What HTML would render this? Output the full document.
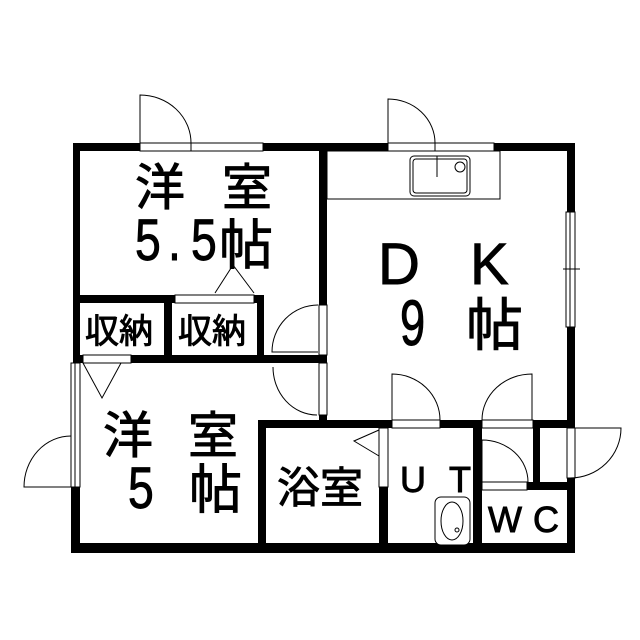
<!DOCTYPE html>
<html><head><meta charset="utf-8"><style>
html,body{margin:0;padding:0;background:#fff;}
svg{display:block}
text{font-family:"Liberation Sans","Noto Sans CJK JP",sans-serif;fill:#000;stroke:#000;stroke-width:0.9}
</style></head><body>
<svg width="640" height="640" viewBox="0 0 640 640" xmlns="http://www.w3.org/2000/svg">
<g fill="#000">
<rect x="73" y="143" width="67" height="8"/>
<rect x="263" y="143" width="125" height="8"/>
<rect x="494" y="143" width="81" height="8"/>
<rect x="73" y="143" width="7" height="217"/>
<rect x="71" y="487" width="9" height="66"/>
<rect x="319" y="143" width="8" height="162"/>
<rect x="567" y="143" width="8" height="69"/>
<rect x="567" y="327" width="8" height="101"/>
<rect x="73" y="295" width="102" height="8"/>
<rect x="254" y="295" width="10" height="8"/>
<rect x="164" y="295" width="8" height="68"/>
<rect x="257" y="295" width="7" height="68"/>
<rect x="73" y="355" width="10" height="8"/>
<rect x="131" y="355" width="196" height="8"/>
<rect x="258" y="420" width="8" height="133"/>
<rect x="258" y="420" width="69" height="8"/>
<rect x="319" y="415" width="8" height="13"/>
<rect x="327" y="420" width="65" height="8"/>
<rect x="440" y="420" width="42" height="8"/>
<rect x="532" y="420" width="43" height="8"/>
<rect x="379" y="487" width="9" height="66"/>
<rect x="473" y="420" width="9" height="133"/>
<rect x="533" y="420" width="7" height="67"/>
<rect x="527" y="482" width="48" height="8"/>
<rect x="567" y="478" width="8" height="75"/>
<rect x="71" y="543" width="504" height="10"/>
</g>
<g fill="#fff" stroke="#000" stroke-width="1">
<rect x="140" y="143" width="51" height="8"/>
<rect x="191" y="143" width="72" height="8"/>
<rect x="388" y="143" width="47" height="8"/>
<rect x="435" y="143" width="59" height="8"/>
<rect x="327" y="151" width="173" height="48"/>
<rect x="410" y="156" width="60" height="40" rx="4"/>
<rect x="413" y="159" width="54" height="34" rx="3"/>
<circle cx="460" cy="167" r="5"/>
<rect x="566" y="212" width="9" height="115"/>
<rect x="175" y="295" width="79" height="8"/>
<rect x="83" y="355" width="48" height="8"/>
<rect x="319" y="305" width="8" height="50"/>
<rect x="319" y="363" width="8" height="52"/>
<rect x="71" y="363" width="9" height="124"/>
<rect x="379" y="428" width="9" height="59"/>
<rect x="392" y="420" width="48" height="8"/>
<rect x="482" y="420" width="51" height="8"/>
<rect x="482" y="482" width="45" height="8"/>
<rect x="567" y="428" width="8" height="50"/>
<rect x="435" y="497" width="35" height="48" rx="6"/>
<ellipse cx="452" cy="521" rx="11" ry="19"/>
<circle cx="457" cy="530" r="2"/>
</g>
<g fill="none" stroke="#000" stroke-width="1">
<line x1="570" y1="212" x2="570" y2="327"/>
<line x1="75" y1="363" x2="75" y2="487"/>
<line x1="563" y1="269" x2="580" y2="269"/>
<line x1="437" y1="156" x2="437" y2="177"/>
<path d="M140 143 V95 A51 48 0 0 1 191 143"/>
<path d="M388 143 V99 A47 44 0 0 1 435 143"/>
<path d="M215 293 L233 265 L254 293"/>
<path d="M83 363 L102 398 L121 363"/>
<path d="M318 305 A46 47 0 0 0 272 352 H318"/>
<path d="M273 367 A44 48 0 0 0 317 415"/>
<path d="M71 436 A47 51 0 0 0 24 487 H71"/>
<path d="M379 430 L354 441 L379 456"/>
<path d="M392 420 V374 A48 46 0 0 1 440 420"/>
<path d="M532 420 V374 A50 46 0 0 0 482 420"/>
<path d="M482 482 V440 A46 42 0 0 1 528 482"/>
<path d="M575 428 H621 A51 50 0 0 1 570 478"/>
</g>
<g font-size="50">
<text x="135" y="205">洋</text><text x="222" y="205">室</text>
<text x="219" y="264" font-size="54">帖</text>
<text x="103" y="453">洋</text><text x="188" y="453">室</text>
<text x="189" y="508" font-size="53">帖</text>
<text x="466" y="345" font-size="57">帖</text>
</g>
<g font-size="58">
<text transform="translate(135,260) scale(0.8,1)">5</text>
<text transform="translate(168,260) scale(0.8,1)">.</text>
<text transform="translate(191,260) scale(0.8,1)">5</text>
<text transform="translate(128,508) scale(0.8,1)">5</text>
<text transform="translate(400,345) scale(0.78,1.1)">9</text>
<text x="378" y="284">D</text><text x="470" y="284">K</text>
</g>
<text x="277" y="503" font-size="43">浴室</text>
<g font-size="34">
<text x="85" y="343">収納</text>
<text x="178" y="343">収納</text>
</g>
<g font-size="36">
<text x="400" y="492">U</text><text x="449" y="492">T</text>
<text x="488" y="532">W</text><text x="533" y="532">C</text>
</g>
</svg>
</body></html>
